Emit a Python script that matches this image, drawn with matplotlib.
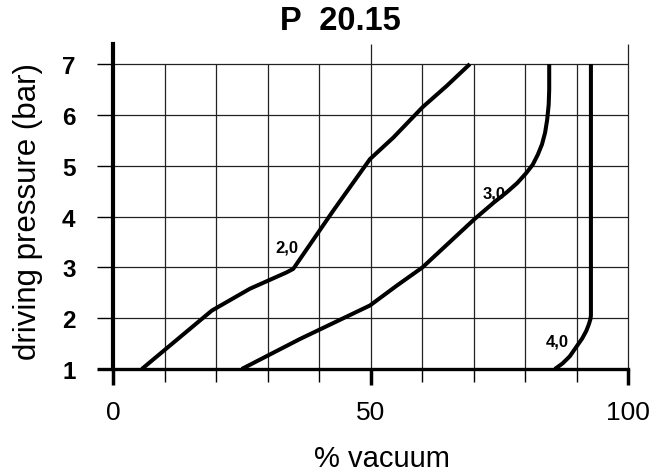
import matplotlib
matplotlib.use('Agg')
import matplotlib.pyplot as plt

plt.rcParams['font.family'] = ['Liberation Sans', 'DejaVu Sans']

# curve data: % vacuum vs driving pressure (bar)
vac_20 = [5.6, 19.2, 26.6, 33.7, 35.0, 42.8, 49.9, 54.4, 60.1, 64.8, 69.3]
bar_20 = [1.0, 2.15, 2.58, 2.90, 2.97, 4.12, 5.13, 5.55, 6.15, 6.57, 7.0]

vac_30 = [25.0, 36.3, 49.9, 55.1, 60.1, 70.2, 74.0, 76.5, 78.5, 80.2, 81.5,
          82.5, 83.3, 83.9, 84.3, 84.6, 84.7, 84.7]
bar_30 = [1.0, 1.59, 2.25, 2.64, 3.0, 3.95, 4.28, 4.48, 4.66, 4.85, 5.02,
          5.22, 5.42, 5.65, 5.90, 6.20, 6.50, 7.0]

vac_40 = [85.8, 87.3, 88.7, 90.0, 91.1, 91.9, 92.4, 92.7, 92.8, 92.8]
bar_40 = [1.0, 1.11, 1.25, 1.44, 1.60, 1.75, 1.88, 1.98, 2.05, 7.0]

curve_labels = ['2,0', '3,0', '4,0']
label_pos = [(33.8, 3.41), (74.0, 4.46), (86.3, 1.56)]

x_major = [0, 50, 100]
x_minor = [10, 20, 30, 40, 60, 70, 80, 90]
y_ticks = [1, 2, 3, 4, 5, 6, 7]
y_top = 7.4

fig = plt.figure(figsize=(6.68, 4.77), dpi=100)
ax = fig.add_axes([113/668, 107/477, 515/668, 325.3/477])
ax.set_xlim(0, 100)
ax.set_ylim(1, y_top)

# grid
ax.vlines(x_minor, y_ticks[0], y_ticks[-1], color='#222222', lw=0.9, zorder=1)
ax.vlines(x_major[1:], y_ticks[0], y_top, color='#222222', lw=0.9, zorder=1, clip_on=False)
ax.hlines(y_ticks[1:], 0, 100, color='#222222', lw=0.9, zorder=1, clip_on=False)

for sp in ['top', 'right']:
    ax.spines[sp].set_visible(False)
ax.spines['left'].set_linewidth(3.0)
ax.spines['bottom'].set_linewidth(2.4)

ax.set_xticks(x_major)
ax.set_xticks(x_minor, minor=True)
ax.set_yticks(y_ticks)
ax.tick_params(axis='x', which='major', length=11.5, width=2.5, pad=11, labelsize=19)
ax.tick_params(axis='x', which='minor', length=9.4, width=1.0)
ax.tick_params(axis='y', which='major', length=11.5, width=1.0, pad=15.5, labelsize=17.5)
for lab in ax.get_yticklabels():
    lab.set_fontweight('bold')
ax.yaxis.get_major_ticks()[0].tick1line.set_markeredgewidth(2.4)

for vx, by in [(vac_20, bar_20), (vac_30, bar_30), (vac_40, bar_40)]:
    ax.plot(vx, by, color='black', lw=2.9, solid_capstyle='butt',
            solid_joinstyle='round', zorder=3, clip_on=False)

for txt, (lx, ly) in zip(curve_labels, label_pos):
    ax.text(lx, ly, txt, fontsize=12, fontweight='bold', ha='center', va='center',
            zorder=4)

ax.set_xlabel('% vacuum', fontsize=21, va='center')
ax.xaxis.set_label_coords(0.522, (370 - 459) / 325.3)
ax.set_ylabel('driving pressure (bar)', fontsize=22.5)
ax.yaxis.set_label_coords(-0.136, 0.486)

fig.text(340/668, 1 - 21.5/477, 'P  20.15', fontsize=23.5, fontweight='bold',
         ha='center', va='center')

fig.savefig('out.png', dpi=100)
